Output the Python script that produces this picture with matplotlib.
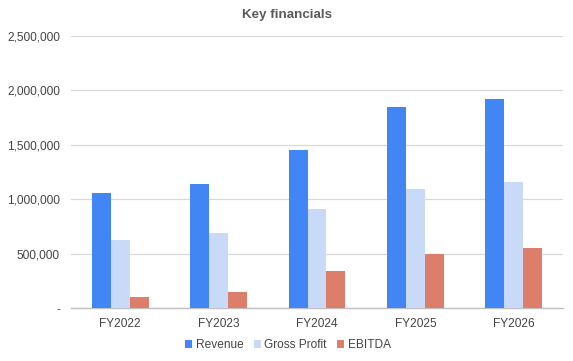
import matplotlib
matplotlib.use("Agg")
import matplotlib.pyplot as plt
import numpy as np
from matplotlib.patches import Patch
from matplotlib.ticker import FuncFormatter

categories = ["FY2022", "FY2023", "FY2024", "FY2025", "FY2026"]
revenue = [1055000, 1140000, 1455000, 1845000, 1925000]
gross_profit = [630000, 688000, 910000, 1095000, 1160000]
ebitda = [105000, 150000, 345000, 500000, 550000]
series_names = ["Revenue", "Gross Profit", "EBITDA"]
colors = ["#4285F4", "#C9DAF8", "#DD7E6B"]
yticks = [0, 500000, 1000000, 1500000, 2000000, 2500000]

plt.rcParams['font.family'] = ['Liberation Sans', 'DejaVu Sans']

fig = plt.figure(figsize=(5.73, 3.61), dpi=100)
ax = fig.add_axes([71/573, 1-308.3/361, (563-71)/573, (308.3-36)/361])

x = np.arange(len(categories))
w = 0.193
for i, (vals, c) in enumerate(zip([revenue, gross_profit, ebitda], colors)):
    ax.bar(x + (i - 1) * w, vals, width=w, color=c, zorder=3)

ax.set_xlim(-0.5, len(categories) - 0.5)
ax.set_ylim(0, 2500000)
ax.set_yticks(yticks)
ax.yaxis.set_major_formatter(FuncFormatter(lambda v, p: "-" if v == 0 else f"{int(v):,}"))
ax.set_xticks(x)
ax.set_xticklabels(categories)
ax.grid(axis='y', color='#d9d9d9', linewidth=0.9, zorder=0)
for s in ['top', 'right', 'left']:
    ax.spines[s].set_visible(False)
ax.spines['bottom'].set_color('#c0c0c0')
ax.spines['bottom'].set_linewidth(1.0)
ax.tick_params(axis='both', length=0, labelsize=8.6, labelcolor='#444444')
ax.tick_params(axis='y', pad=8)
ax.tick_params(axis='x', pad=7)

fig.text(287/573, 1-15/361, "Key financials", ha='center', va='center',
         fontsize=9.6, fontweight='bold', color='#5a5a5a')

handles = [Patch(facecolor=c, edgecolor='none') for c in colors]
leg = fig.legend(handles, series_names, loc='center', bbox_to_anchor=(288/573, 1-345/361),
                 ncol=3, frameon=False, fontsize=8.6, handlelength=0.6, handleheight=0.6,
                 handletextpad=0.3, columnspacing=0.85, borderpad=0)
for t in leg.get_texts():
    t.set_color('#444444')

fig.savefig("out.png", dpi=100)
